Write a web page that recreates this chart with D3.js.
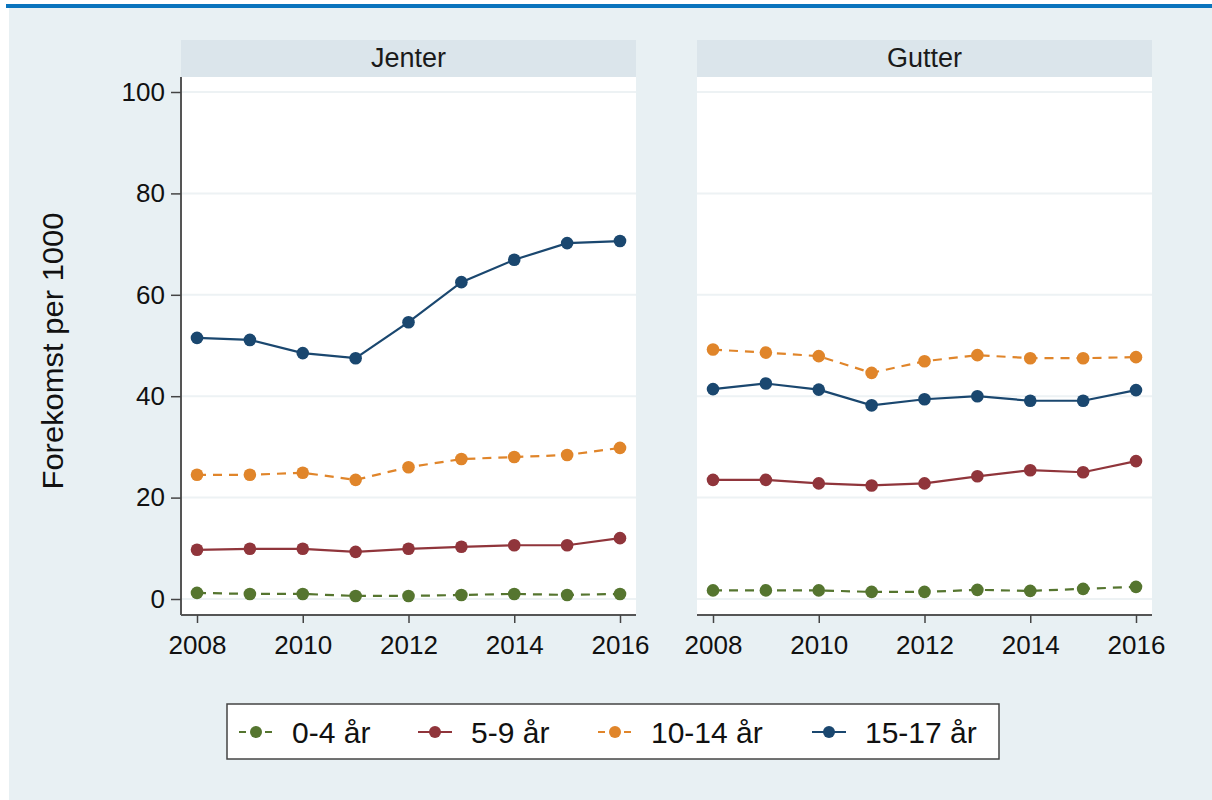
<!DOCTYPE html>
<html><head><meta charset="utf-8">
<script src="https://cdn.jsdelivr.net/npm/d3@7"></script>
<style>body{margin:0;background:#fff}svg{display:block;font-family:Arial,"Liberation Sans",sans-serif}</style>
</head><body>
<script>
const years = [2008,2009,2010,2011,2012,2013,2014,2015,2016];
const panels = ["Jenter","Gutter"];
const seriesNames = ["0-4 år","5-9 år","10-14 år","15-17 år"];
const seriesColors = ["#55752f","#90353b","#e0852a","#1a476f"];
const seriesDashed = [true,false,true,false];
const yTicks = [0,20,40,60,80,100];
const xTicks = [2008,2010,2012,2014,2016];
// Jenter
const jenter04 = [1.2,1.0,1.0,0.6,0.6,0.8,1.0,0.8,1.0];
const jenter59 = [9.7,9.9,9.9,9.3,9.9,10.3,10.6,10.6,12.0];
const jenter1014 = [24.5,24.5,24.9,23.5,26.0,27.6,28.0,28.4,29.8];
const jenter1517 = [51.5,51.1,48.5,47.5,54.6,62.5,66.9,70.2,70.6];
// Gutter
const gutter04 = [1.7,1.7,1.7,1.4,1.4,1.8,1.6,2.0,2.4];
const gutter59 = [23.5,23.5,22.8,22.4,22.8,24.2,25.4,25.0,27.2];
const gutter1014 = [49.2,48.6,47.9,44.6,46.9,48.1,47.5,47.5,47.7];
const gutter1517 = [41.4,42.5,41.3,38.2,39.4,40.0,39.1,39.1,41.2];
const panelData = [[jenter04,jenter59,jenter1014,jenter1517],[gutter04,gutter59,gutter1014,gutter1517]];

const W=1212,H=800;
const FONT="Arial,'Liberation Sans',sans-serif";
const svg=d3.select("body").append("svg").attr("width",W).attr("height",H);
svg.append("rect").attr("x",9).attr("y",8).attr("width",W-9).attr("height",H-8).attr("fill","#e8f0f3");
svg.append("rect").attr("x",6).attr("y",4).attr("width",W-6).attr("height",4).attr("fill","#0a74bd");

const y=d3.scaleLinear().domain([0,100]).range([599,92]);
const panelX=[[181,636],[697,1152]];
const plotTop=77,plotBottom=615,headTop=40;

panels.forEach((name,pi)=>{
  const [x0,x1]=panelX[pi];
  const x=d3.scaleLinear().domain([2008,2016]).range([x0+16,x1-16]);
  const g=svg.append("g");
  g.append("rect").attr("x",x0).attr("y",headTop).attr("width",x1-x0).attr("height",plotTop-headTop).attr("fill","#dbe5eb");
  g.append("text").attr("x",(x0+x1)/2).attr("y",67).attr("text-anchor","middle").attr("font-size",27).attr("fill","#1a1a1a").text(name);
  g.append("rect").attr("x",x0).attr("y",plotTop).attr("width",x1-x0).attr("height",plotBottom-plotTop).attr("fill","#fff");
  g.selectAll("line.grid").data(yTicks).enter().append("line")
    .attr("x1",x0).attr("x2",x1).attr("y1",d=>y(d)).attr("y2",d=>y(d))
    .attr("stroke","#edf2f4").attr("stroke-width",2);
  // x axis
  const xa=g.append("g").attr("transform",`translate(0,${plotBottom})`)
    .call(d3.axisBottom(x).tickValues(xTicks).tickFormat(d3.format("d")).tickSize(8).tickPadding(13));
  xa.select(".domain").attr("d",`M${x0},0H${x1}`).attr("stroke","#555").attr("stroke-width",2);
  xa.selectAll(".tick line").attr("stroke","#444").attr("stroke-width",1.5);
  xa.selectAll(".tick text").attr("font-size",26).attr("fill","#111").attr("font-family",FONT);
  if(pi===0){
    const ya=g.append("g").attr("transform",`translate(${x0},0)`)
      .call(d3.axisLeft(y).tickValues(yTicks).tickSize(10).tickPadding(6));
    ya.select(".domain").attr("d",`M0,${plotTop}V${plotBottom}`).attr("stroke","#555").attr("stroke-width",2);
    ya.selectAll(".tick line").attr("stroke","#444").attr("stroke-width",1.5);
    ya.selectAll(".tick text").attr("font-size",26).attr("fill","#111").attr("font-family",FONT);
  }
  const line=d3.line().x((d,i)=>x(years[i])).y(d=>y(d));
  panelData[pi].forEach((vals,si)=>{
    g.append("path").datum(vals).attr("d",line).attr("fill","none")
      .attr("stroke",seriesColors[si]).attr("stroke-width",2.2)
      .attr("stroke-dasharray",seriesDashed[si]?"9,7":null);
    g.selectAll(null).data(vals).enter().append("circle")
      .attr("cx",(d,i)=>x(years[i])).attr("cy",d=>y(d)).attr("r",6.3).attr("fill",seriesColors[si]);
  });
});

svg.append("text").attr("transform","translate(63,351) rotate(-90)").attr("text-anchor","middle")
  .attr("font-size",29).attr("textLength",277).attr("lengthAdjust","spacingAndGlyphs")
  .attr("fill","#111").text("Forekomst per 1000");

// legend
const lg=svg.append("g");
lg.append("rect").attr("x",227).attr("y",704).attr("width",772).attr("height",55).attr("fill","#fff").attr("stroke","#444").attr("stroke-width",1.5);
const legX=[239,418,598,812];
seriesNames.forEach((n,i)=>{
  const lx=legX[i], ly=732;
  lg.append("line").attr("x1",lx).attr("x2",lx+34).attr("y1",ly).attr("y2",ly)
    .attr("stroke",seriesColors[i]).attr("stroke-width",2.2).attr("stroke-dasharray",seriesDashed[i]?"7,6":null);
  lg.append("circle").attr("cx",lx+17).attr("cy",ly).attr("r",6).attr("fill",seriesColors[i]);
  lg.append("text").attr("x",lx+53).attr("y",ly+11).attr("font-size",30).attr("fill","#111").text(n);
});
</script>
</body></html>
